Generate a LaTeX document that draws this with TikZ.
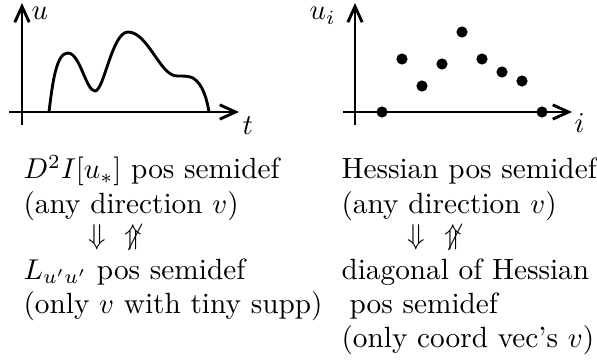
\documentclass[tikz,border=0pt]{standalone}
\usetikzlibrary{arrows.meta}
\begin{document}
\begin{tikzpicture}[x=0.3484pt,y=-0.3484pt,
  axis/.style={line width=1pt,-{Straight Barb[length=5.5pt,width=5pt,line width=1pt]}},
  curvestyle/.style={line width=1pt},
  dot/.style={circle,fill=black,inner sep=0pt,minimum size=3.9pt},
  txt/.style={anchor=base west,inner sep=0pt,font=\fontsize{10.2pt}{12.5pt}\selectfont},
  lbl/.style={anchor=base west,inner sep=0pt,font=\fontsize{10.45pt}{12.5pt}\selectfont}]
\useasboundingbox (0,0) rectangle (597,362);
% left plot
\coordinate (lyb) at (22,125);
\coordinate (lyt) at (22,3);
\coordinate (lxl) at (9,112);
\coordinate (lxr) at (239,112);
\draw[axis] (lyb) -- (lyt);
\draw[axis] (lxl) -- (lxr);
\node[lbl] (lu) at (31,20) {$u$};
\node[lbl] (lt) at (242,135) {$t$};
\draw[curvestyle] (49,112) .. controls (53,78) and (57,53) .. (68,53)
  .. controls (80,53) and (86,91) .. (95,91)
  .. controls (104,91) and (112,32) .. (128,32)
  .. controls (148,32) and (160,76) .. (177,76)
  .. controls (184,76) and (189,76) .. (193,78)
  .. controls (203,84) and (207,100) .. (209,112);
% right plot
\coordinate (ryb) at (355,125);
\coordinate (ryt) at (355,3);
\coordinate (rxl) at (343,112);
\coordinate (rxr) at (572,112);
\draw[axis] (ryb) -- (ryt);
\draw[axis] (rxl) -- (rxr);
\node[lbl] (rui) at (309,20) {$u_i$};
\node[lbl] (ri) at (574,133) {$i$};
\node[dot] (d1) at (382,112) {};
\node[dot] (d2) at (402,59) {};
\node[dot] (d3) at (422,86) {};
\node[dot] (d4) at (442,64) {};
\node[dot] (d5) at (462,32) {};
\node[dot] (d6) at (482,59) {};
\node[dot] (d7) at (502,72) {};
\node[dot] (d8) at (522,81) {};
\node[dot] (d9) at (542,112) {};
% left text
\node[txt] (l1) at (23,179) {$D^2I[u_*]$ pos semidef};
\node[txt] (l2) at (23,213) {(any direction $v$)};
\node[txt] (l3a) at (88,245) {$\Downarrow$};
\node[txt] (l3b) at (124,245) {$\not\Uparrow$};
\node[txt] (l4) at (23,279) {$L_{u'u'}$ pos semidef};
\node[txt] (l5) at (23,313) {(only $v$ with tiny supp)};
% right text
\node[txt] (r1) at (341,179) {Hessian pos semidef};
\node[txt] (r2) at (341,213) {(any direction $v$)};
\node[txt] (r3a) at (407,245) {$\Downarrow$};
\node[txt] (r3b) at (444,245) {$\not\Uparrow$};
\node[txt] (r4) at (341,279) {diagonal of Hessian};
\node[txt] (r5) at (349,313) {pos semidef};
\node[txt] (r6) at (341,347) {(only coord vec's $v$)};
\end{tikzpicture}
\end{document}
